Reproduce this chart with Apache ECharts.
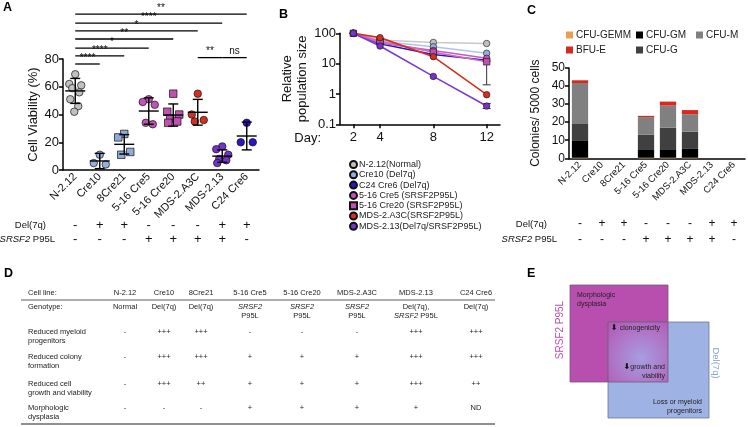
<!DOCTYPE html>
<html><head><meta charset="utf-8">
<script src="https://cdn.jsdelivr.net/npm/echarts@6/dist/echarts.min.js"></script>
<style>html,body{margin:0;padding:0;background:#fff}#c{width:748px;height:427px}</style>
</head><body><div id="c"></div>
<script>
const FONT = '"Liberation Sans", Arial, sans-serif';
// ---------- shared categories ----------
const cellLines = ['N-2.12','Cre10','8Cre21','5-16 Cre5','5-16 Cre20','MDS-2.A3C','MDS-2.13','C24 Cre6'];
const del7qSigns = ['-','+','+','-','-','-','+','+'];
const srsf2Signs = ['-','-','-','+','+','+','+','-'];

// ---------- Panel A: cell viability (%) ----------
const viabN212   = [69, 62, 61, 59, 56, 51, 46, 42];
const viabCre10  = [11, 5, 4];
const viab8Cre21 = [26, 23.5, 13, 11];
const viabCre5   = [51, 49, 47, 34, 33];
const viabCre20  = [55, 42, 40, 37, 35, 34];
const viabA3C    = [55, 40, 36, 35];
const viabMDS213 = [17, 15, 11, 8, 7, 5];
const viabC24    = [34, 20, 20];
const viabMean   = [57, 6.5, 18.5, 42.5, 39.6, 41.6, 10, 24.5];
const viabErr    = [9, 5.5, 7, 9.5, 8, 9.3, 4.5, 10];
const sigFrom    = [-0.2, -0.2, -0.2, -0.2, -0.2, -0.2, -0.2, 4.7, 5.95];
const sigTo      = [1, 2, 3, 4, 5, 6, 7.1, 5.85, 7.1];
const sigLevel   = [76.4, 82.2, 87.9, 94.4, 100.2, 105.9, 112.4, 81, 81];
const sigText    = ['****','****','*','**','*','****','**','**','ns'];

// ---------- Panel B: relative population size ----------
const days = [2, 4, 8, 12];
const popNames = ['N-2.12(Normal)','Cre10 (Del7q)','C24 Cre6 (Del7q)','5-16 Cre5 (SRSF2P95L)','5-16 Cre20 (SRSF2P95L)','MDS-2.A3C(SRSF2P95L)','MDS-2.13(Del7q/SRSF2P95L)'];
const popN212   = [100, 60, 50, 46];
const popCre10  = [100, 55, 36, 22];
const popC24    = [100, 45, 20, 13];
const popCre5   = [100, 48, 27, 15];
const popCre20  = [100, 55, 24, 11.5];
const popA3C    = [100, 72, 17, 0.95];
const popMDS213 = [100, 38, 3.8, 0.4];
const popErrDay  = [12, 12];
const popErrLow  = [2, 0.33];
const popErrHigh = [12, 0.48];

// ---------- Panel C: colonies / 5000 cells ----------
const cfuGEMM = [0.3, 0, 0, 0.3, 0.3, 0.3, 0, 0];
const cfuGM   = [9.3, 0, 0, 4.7, 4.7, 4.9, 0, 0];
const cfuG    = [9.4, 0, 0, 8, 12, 9.6, 0, 0];
const cfuM    = [22.7, 0, 0, 9.8, 12.2, 9.6, 0, 0];
const bfuE    = [1.5, 0, 0, 0.7, 2.2, 2.3, 0, 0];

// ---------- Panel D: table ----------
const tableCols = ['N-2.12','Cre10','8Cre21','5-16 Cre5','5-16 Cre20','MDS-2.A3C','MDS-2.13','C24 Cre6'];
const genotypes = ['Normal','Del(7q)','Del(7q)','{i|SRSF2}\nP95L','{i|SRSF2}\nP95L','{i|SRSF2}\nP95L','Del(7q),\n{i|SRSF2} P95L','Del(7q)'];
const rowLabels = ['Reduced myeloid\nprogenitors','Reduced colony\nformation','Reduced cell\ngrowth and viability','Morphologic\ndysplasia'];
const rowMyeloid = ['-','+++','+++','-','-','-','+++','+++'];
const rowColony  = ['-','+++','+++','+','+','+','+++','+++'];
const rowGrowth  = ['-','+++','++','+','+','+','+++','++'];
const rowDysp    = ['-','-','-','+','+','+','+','ND'];

// ---------- Panel E texts ----------
const eTexts = ['Morphologic\ndysplasia','{a|\u2B07} clonogenicity','{a|\u2B07}growth and\nviability','Loss or myeloid\nprogenitors','SRSF2 P95L','Del(7q)'];

const viabGroups = [viabN212, viabCre10, viab8Cre21, viabCre5, viabCre20, viabA3C, viabMDS213, viabC24];
const viabSymbols = ['circle','circle','rect','circle','rect','circle','circle','circle'];
const viabColors = ['#c0c0c0','#93afe0','#8eaadb','#c451b8','#c24fb2','#d3301f','#7434c8','#2b14c4'];
const jitter = [0, -6, 6, -3, 4, -5, 3, -1];

const popGroups = [popN212, popCre10, popC24, popCre5, popCre20, popA3C, popMDS213];
const popColors = ['#c0c0c0','#93afe0','#2b14c4','#c451b8','#c24fb2','#d3301f','#7434c8'];
const popLineColors = ['#c8c8c8','#aec4ec','#2b14c4','#c85bbd','#cf6cc2','#d3301f','#7a3ad0'];

const cfuNames = ['CFU-GEMM','CFU-GM','CFU-G','CFU-M','BFU-E'];
const cfuData = [cfuGEMM, cfuGM, cfuG, cfuM, bfuE];
const cfuColors = ['#e8a050','#000000','#404040','#808080','#d62a1e'];

const black = '#000';
const axisLineStyle = {lineStyle:{color:black, width:1.5}};
const axisTickStyle = {show:true, length:4, lineStyle:{color:black, width:1.5}};

function signAxis(gridIndex, offset, signs, size){
  return {type:'category', gridIndex, data:cellLines, position:'bottom', offset,
    axisLine:{show:false}, axisTick:{show:false},
    axisLabel:{interval:0, margin:0, verticalAlign:'middle', fontSize:size, fontFamily:FONT, color:'#111',
      formatter:(v,i)=>signs[i]}};
}

const series = [];
// A scatter
viabGroups.forEach((vals,i)=>{
  series.push({type:'scatter', name:'A '+cellLines[i], xAxisIndex:0, yAxisIndex:0, symbol:viabSymbols[i], symbolSize:7.5, z:3,
    itemStyle:{color:viabColors[i], borderColor:'#111', borderWidth:0.7, opacity:1},
    data: vals.map((v,k)=>({value:[i,v], symbolOffset:[jitter[k%jitter.length],0]}))});
});
// A mean +- err
series.push({type:'custom', name:'A mean', xAxisIndex:0, yAxisIndex:0, z:5, clip:false,
  data: cellLines.map((c,i)=>[i, viabMean[i], viabErr[i]]),
  renderItem(params, api){
    const x=api.value(0), m=api.value(1), e=api.value(2);
    const pm=api.coord([x,m]), pt=api.coord([x,m+e]), pb=api.coord([x,Math.max(0,m-e)]);
    const style={stroke:black, lineWidth:1.4};
    return {type:'group', children:[
      {type:'line', shape:{x1:pm[0]-10,y1:pm[1],x2:pm[0]+10,y2:pm[1]}, style},
      {type:'line', shape:{x1:pt[0],y1:pt[1],x2:pb[0],y2:pb[1]}, style},
      {type:'line', shape:{x1:pt[0]-5,y1:pt[1],x2:pt[0]+5,y2:pt[1]}, style},
      {type:'line', shape:{x1:pb[0]-5,y1:pb[1],x2:pb[0]+5,y2:pb[1]}, style}
    ]};
  }});
// A significance brackets
series.push({type:'custom', name:'A sig', xAxisIndex:0, yAxisIndex:0, z:5, clip:false,
  data: sigText.map((t,i)=>[sigFrom[i], sigTo[i], sigLevel[i], i]),
  renderItem(params, api){
    const p1=api.coord([api.value(0), api.value(2)]);
    const p2=api.coord([api.value(1), api.value(2)]);
    const idx=api.value(3);
    return {type:'group', children:[
      {type:'line', shape:{x1:p1[0],y1:p1[1],x2:p2[0],y2:p2[1]}, style:{stroke:black, lineWidth:1.3}},
      {type:'text', x:(p1[0]+p2[0])/2, y:p1[1]-1, style:{text:sigText[idx], align:'center', verticalAlign:'bottom', fontSize:10, fontFamily:FONT, fill:'#111'}}
    ]};
  }});
// B lines
popGroups.forEach((vals,i)=>{
  series.push({type:'line', name:popNames[i], xAxisIndex:1, yAxisIndex:1, symbol: i===4?'rect':'circle', symbolSize:6.5, z:3,
    lineStyle:{color:popLineColors[i], width:1.6},
    itemStyle:{color:popColors[i], borderColor:'#111', borderWidth:0.6},
    data: days.map((d,k)=>[d, vals[k]])});
});
series.push({type:'custom', name:'B err', xAxisIndex:1, yAxisIndex:1, z:2, clip:false,
  data: popErrDay.map((d,i)=>[d, popErrLow[i], popErrHigh[i]]),
  renderItem(params, api){
    const lo=api.coord([api.value(0), api.value(1)]), hi=api.coord([api.value(0), api.value(2)]);
    const style={stroke:'#333', lineWidth:1};
    return {type:'group', children:[
      {type:'line', shape:{x1:lo[0],y1:lo[1],x2:hi[0],y2:hi[1]}, style},
      {type:'line', shape:{x1:lo[0]-4,y1:lo[1],x2:lo[0]+4,y2:lo[1]}, style},
      {type:'line', shape:{x1:hi[0]-4,y1:hi[1],x2:hi[0]+4,y2:hi[1]}, style}
    ]};
  }});
// C stacked bars
cfuData.forEach((vals,i)=>{
  series.push({type:'bar', name:cfuNames[i], xAxisIndex:2, yAxisIndex:2, stack:'cfu', barWidth:'74%',
    itemStyle:{color:cfuColors[i], borderWidth:0},
    data: vals.map(v=>v>0?v:'-')});
});

// ---------- graphic: labels, table, diagram ----------
const G = [];
function txt(x,y,text,opt){ G.push({type:'text', x, y, silent:true, style:Object.assign({text, fontFamily:FONT, fontSize:8, fill:'#111'}, opt||{})}); }
// panel letters
[['A',3,1],['B',279,8],['C',527,4],['D',4,267],['E',527,267]].forEach(p=>txt(p[1],p[2],p[0],{fontSize:12.5,fontWeight:'bold',fill:'#000'}));
// genotype row titles A and C
const italic = {i:{fontStyle:'italic', fontSize:9.5, fontFamily:FONT, fill:'#111'}};
txt(46,225,'Del(7q)',{align:'right',verticalAlign:'middle',fontSize:9.5});
txt(55,239,'{i|SRSF2} P95L',{align:'right',verticalAlign:'middle',fontSize:9.5,rich:italic});
txt(547,224,'Del(7q)',{align:'right',verticalAlign:'middle',fontSize:9.5});
txt(557,239,'{i|SRSF2} P95L',{align:'right',verticalAlign:'middle',fontSize:9.5,rich:italic});
// B Day:
txt(321,138,'Day:',{align:'right',verticalAlign:'middle',fontSize:13});

// table D
const colX = [125, 164, 201, 250, 302, 357, 416, 476];
const tFont = 7.5;
const tItalic = {i:{fontStyle:'italic', fontSize:tFont, fontFamily:FONT, fill:'#222', lineHeight:8.7}};
txt(28,293,'Cell line:',{verticalAlign:'middle',fontSize:tFont,fill:'#222'});
tableCols.forEach((c,i)=>txt(colX[i],293,c,{align:'center',verticalAlign:'middle',fontSize:tFont,fill:'#222'}));
G.push({type:'line', silent:true, shape:{x1:21,y1:300,x2:495,y2:300}, style:{stroke:'#333', lineWidth:0.8}});
txt(28,303,'Genotype:',{verticalAlign:'top',fontSize:tFont,fill:'#222',lineHeight:8.7});
genotypes.forEach((g,i)=>txt(colX[i],303,g,{align:'center',verticalAlign:'top',fontSize:tFont,fill:'#222',lineHeight:8.7,rich:tItalic}));
const rowTops = [327.5, 353, 379.5, 403.5];
const rowVals = [rowMyeloid, rowColony, rowGrowth, rowDysp];
rowLabels.forEach((l,r)=>{
  txt(28,rowTops[r],l,{verticalAlign:'top',fontSize:tFont,fill:'#222',lineHeight:8.7});
  rowVals[r].forEach((v,i)=>txt(colX[i],rowTops[r],v,{align:'center',verticalAlign:'top',fontSize:tFont,fill:'#222',lineHeight:8.7}));
});
G.push({type:'line', silent:true, shape:{x1:21,y1:424,x2:495,y2:424}, style:{stroke:'#222', lineWidth:1.2}});

// diagram E
G.push({type:'rect', silent:true, shape:{x:570,y:285,width:98,height:97}, style:{fill:'#b84fae', stroke:'#6d5a7a', lineWidth:0.8}});
G.push({type:'rect', silent:true, shape:{x:608,y:322,width:101,height:96}, style:{fill:'#9eb3e3', stroke:'#6d7495', lineWidth:0.8}});
G.push({type:'rect', silent:true, shape:{x:608,y:322,width:60,height:60}, style:{
  fill:new echarts.graphic.RadialGradient(0.55,0.6,0.75,[{offset:0,color:'#a79de0'},{offset:1,color:'#b45ab5'}]),
  stroke:'#6d5a7a', lineWidth:0.8}});
const eFont = 7;
const arrowRich = {a:{fontFamily:'"DejaVu Sans", sans-serif', fontSize:8, fontWeight:'bold', fill:'#111'}};
txt(577,291,eTexts[0],{verticalAlign:'top',fontSize:eFont,lineHeight:8.5,fill:'#222'});
txt(611,328,eTexts[1],{verticalAlign:'middle',fontSize:eFont,fill:'#222',rich:arrowRich});
txt(665,363,eTexts[2],{align:'right',verticalAlign:'top',fontSize:eFont,lineHeight:8.5,fill:'#222',rich:arrowRich});
txt(702,398,eTexts[3],{align:'right',verticalAlign:'top',fontSize:eFont,lineHeight:8.5,fill:'#222'});
G.push({type:'text', silent:true, x:560, y:330, rotation:Math.PI/2, style:{text:eTexts[4], align:'center', verticalAlign:'middle', fontSize:10, fontFamily:FONT, fill:'#c050b0'}});
G.push({type:'text', silent:true, x:716, y:363, rotation:-Math.PI/2, style:{text:eTexts[5], align:'center', verticalAlign:'middle', fontSize:9.5, fontFamily:FONT, fill:'#8aa4dc'}});

const option = {
  animation:false,
  backgroundColor:'#fff',
  textStyle:{fontFamily:FONT},
  grid:[
    {left:63, top:59, width:196, height:111},
    {left:340, top:33.3, width:160, height:91},
    {left:569, top:68, width:176, height:90.3}
  ],
  xAxis:[
    {type:'category', gridIndex:0, data:cellLines, axisLine:axisLineStyle, axisTick:{show:false},
      axisLabel:{interval:0, rotate:45, fontSize:11, fontFamily:FONT, color:'#111', margin:5}},
    {type:'value', gridIndex:1, min:1, max:13, splitLine:{show:false}, axisLine:axisLineStyle,
      axisTick:Object.assign({customValues:days}, axisTickStyle),
      axisLabel:{customValues:days, fontSize:13, fontFamily:FONT, color:'#111', margin:7}},
    {type:'category', gridIndex:2, data:cellLines, axisLine:axisLineStyle, axisTick:{show:false},
      axisLabel:{interval:0, rotate:45, fontSize:9.5, fontFamily:FONT, color:'#111', margin:5}},
    signAxis(0, 55, del7qSigns, 13),
    signAxis(0, 69, srsf2Signs, 13),
    signAxis(2, 65, del7qSigns, 12),
    signAxis(2, 81, srsf2Signs, 12)
  ],
  yAxis:[
    {type:'value', gridIndex:0, min:0, max:80, interval:20, splitLine:{show:false}, axisLine:{show:true, lineStyle:{color:black,width:1.5}}, axisTick:axisTickStyle,
      axisLabel:{fontSize:13, fontFamily:FONT, color:'#111', margin:4},
      name:'Cell Viability (%)', nameLocation:'middle', nameGap:23, nameTextStyle:{fontSize:13, fontFamily:FONT, color:'#111'}},
    {type:'log', logBase:10, gridIndex:1, min:0.1, max:100, splitLine:{show:false}, axisLine:{show:true, lineStyle:{color:black,width:1.5}}, axisTick:axisTickStyle,
      minorTick:{show:false},
      axisLabel:{fontSize:13, fontFamily:FONT, color:'#111', margin:4, formatter:v=>String(+v.toPrecision(3))},
      name:'Relative\npopulation size', nameLocation:'middle', nameGap:27, nameTextStyle:{fontSize:13, lineHeight:15, fontFamily:FONT, color:'#111'}},
    {type:'value', gridIndex:2, min:0, max:50, interval:10, splitLine:{show:false}, axisLine:{show:true, lineStyle:{color:black,width:1.5}}, axisTick:axisTickStyle,
      axisLabel:{fontSize:12, fontFamily:FONT, color:'#111', margin:4},
      name:'Colonies/ 5000 cells', nameLocation:'middle', nameGap:27, nameTextStyle:{fontSize:12, fontFamily:FONT, color:'#111'}}
  ],
  legend:[
    {orient:'vertical', left:349, top:160, padding:0, itemWidth:7, itemHeight:7, itemGap:1.3, selectedMode:false,
      textStyle:{fontSize:9, fontFamily:FONT, color:'#222', padding:[0,0,0,-3]},
      data: popNames.map((n,i)=>({name:n, icon: i===4?'rect':'circle'}))},
    {orient:'vertical', left:566, top:30, padding:0, itemWidth:7, itemHeight:7, itemGap:5, icon:'rect', selectedMode:false,
      textStyle:{fontSize:10, fontFamily:FONT, color:'#222', padding:[0,0,0,-2]}, data:['CFU-GEMM','BFU-E']},
    {orient:'vertical', left:636, top:30, padding:0, itemWidth:7, itemHeight:7, itemGap:5, icon:'rect', selectedMode:false,
      textStyle:{fontSize:10, fontFamily:FONT, color:'#222', padding:[0,0,0,-2]}, data:['CFU-GM','CFU-G']},
    {orient:'vertical', left:696, top:30, padding:0, itemWidth:7, itemHeight:7, itemGap:5, icon:'rect', selectedMode:false,
      textStyle:{fontSize:10, fontFamily:FONT, color:'#222', padding:[0,0,0,-2]}, data:['CFU-M']}
  ],
  graphic: G,
  series
};
const chart = echarts.init(document.getElementById('c'));
chart.setOption(option);
</script></body></html>
